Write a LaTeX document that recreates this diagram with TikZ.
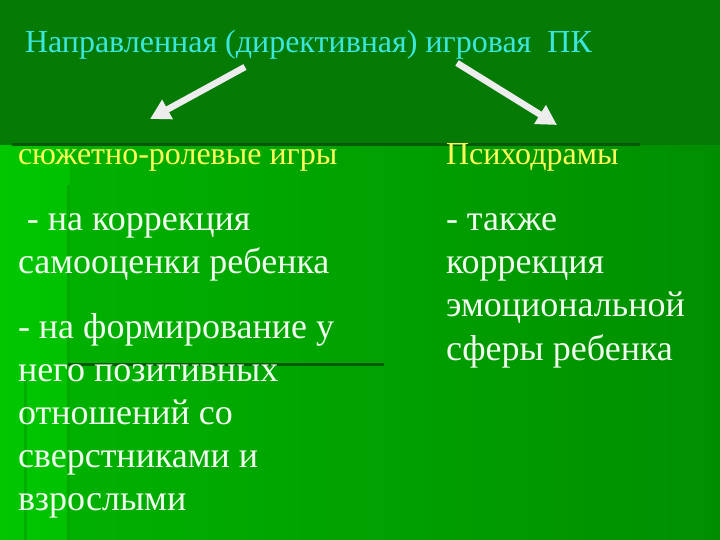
\documentclass[tikz,border=0pt]{standalone}
\usepackage{fontspec}
\setmainfont{Liberation Serif}
\usetikzlibrary{arrows.meta}
\definecolor{titlecol}{HTML}{3CE6DC}
\definecolor{subcol}{HTML}{FFFF5A}
\definecolor{bodycol}{HTML}{F0FFEE}
\definecolor{topgreen}{HTML}{057A05}
\definecolor{linegreen}{HTML}{075A07}
\begin{document}
\begin{tikzpicture}[x=1pt,y=-1pt,
  every node/.style={inner sep=0pt,outer sep=0pt,anchor=base west},
  titletext/.style={text=titlecol,font=\fontsize{32}{38}\selectfont},
  subtext/.style={text=subcol,font=\fontsize{32}{38}\selectfont},
  bodytext/.style={text=bodycol,font=\fontsize{36}{43}\selectfont},
  bigarrow/.style={draw=white!93!black,line width=6.5pt,
    -{Triangle[length=20pt,width=21pt,fill=white!93!black]}},
  darkline/.style={draw=linegreen,line width=3pt},
  softline/.style={draw=black,opacity=0.12,line width=3pt}]
\useasboundingbox (0,0) rectangle (720,540);
% background
\shade[left color=green!78!black, right color=green!55!black] (0,0) rectangle (720,540);
\fill[green!58!black,opacity=0.35] (70,145) rectangle (720,540);
\fill[topgreen] (0,0) rectangle (720,145);
\fill[topgreen!85!green, opacity=0.5] (640,145) rectangle (720,150);
% template lines
\draw[darkline] (12,145) -- (640,145);
\draw[darkline] (68,364) -- (384,364);
\draw[softline] (68,185) -- (68,540);
\draw[softline] (25,380) -- (25,540);
% title
\node[titletext] (title) at (25,53) {Направленная (директивная) игровая\ \ ПК};
% arrows
\coordinate (la1) at (245,67);
\coordinate (la2) at (150,119);
\coordinate (ra1) at (457,63);
\coordinate (ra2) at (557,125);
\draw[bigarrow] (la1) -- (la2);
\draw[bigarrow] (ra1) -- (ra2);
% sub headings
\node[subtext] (sl) at (18,165) {сюжетно-ролевые игры};
\node[subtext] (sr) at (446,165) {Психодрамы};
% left column
\node[bodytext] (l1) at (18,230) {\hspace*{9pt}- на коррекция};
\node[bodytext] (l2) at (18,273) {самооценки ребенка};
\node[bodytext] (l3) at (18,338) {- на формирование у};
\node[bodytext] (l4) at (18,381) {него позитивных};
\node[bodytext] (l5) at (18,424) {отношений со};
\node[bodytext] (l6) at (18,467) {сверстниками и};
\node[bodytext] (l7) at (18,510) {взрослыми};
% right column
\node[bodytext] (r1) at (446,230) {- также};
\node[bodytext] (r2) at (446,273) {коррекция};
\node[bodytext] (r3) at (446,316) {эмоциональной};
\node[bodytext] (r4) at (446,360) {сферы ребенка};
\end{tikzpicture}
\end{document}
